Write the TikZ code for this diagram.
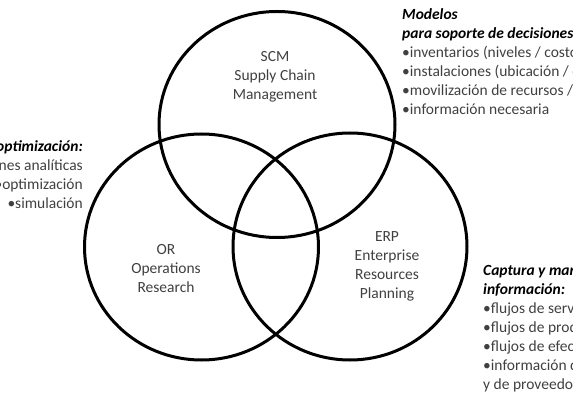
\documentclass[tikz,border=0pt]{standalone}
\usepackage{fontspec}
\setmainfont{Carlito}
\usetikzlibrary{shapes.geometric}
\definecolor{txt}{RGB}{64,64,64}
\tikzset{
  ring/.style={ellipse, draw=black, line width=3pt, inner sep=0pt},
  label/.style={align=center, text=txt, inner sep=0pt, font=\fontsize{15.5}{19}\selectfont},
  side/.style={inner sep=0pt, text=txt, font=\fontsize{15.5}{19}\selectfont},
}
\newcommand{\hd}[1]{\textcolor{black}{\textbf{\textit{#1}}}}
\begin{document}
\begin{tikzpicture}[x=1pt,y=-1pt]
\useasboundingbox (0,0) rectangle (573,403);
\clip (0,0) rectangle (573,403);
\node[ring, minimum width=236pt, minimum height=226pt] (scmC) at (277,124.5) {};
\node[ring, minimum width=234pt, minimum height=226pt] (orC) at (201.5,247) {};
\node[ring, minimum width=234pt, minimum height=227pt] (erpC) at (350,246.5) {};
\node[label] (scm) at (275,76.5) {SCM\\Supply Chain\\Management};
\node[label] (or) at (166,269) {OR\\Operations\\Research};
\node[label] (erp) at (387,266.5) {ERP\\Enterprise\\Resources\\Planning};
\node[side, align=left, anchor=north west] (models) at (402,8)
  {\hd{Modelos}\\\hd{para soporte de decisiones:}\\
   •inventarios (niveles / costos)\\•instalaciones (ubicación / capacidad)\\
   •movilización de recursos / transporte\\•información necesaria};
\node[side, align=right, anchor=north east] (opt) at (83,140.5)
  {\hd{Modelos de optimización:}\\•soluciones analíticas\\•optimización\\•simulación};
\node[side, align=left, anchor=north west] (capt) at (483,264)
  {\hd{Captura y manejo de}\\\hd{información:}\\•flujos de servicios\\•flujos de productos\\
   •flujos de efectivo\\•información de clientes\\y de proveedores};
\end{tikzpicture}
\end{document}
